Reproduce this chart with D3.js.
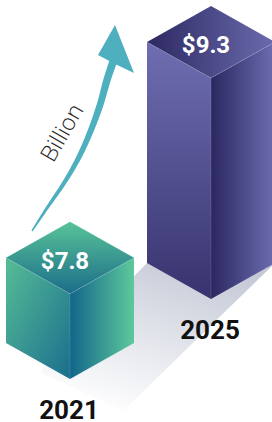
<!DOCTYPE html>
<html>
<head>
<meta charset="utf-8">
<script src="https://cdn.jsdelivr.net/npm/d3@7"></script>
<style>
  body { margin: 0; background: #fff; }
  svg { display: block; }
</style>
</head>
<body>
<div id="chart"></div>
<script>
// data
var years = ["2021", "2025"];
var values = [7.8, 9.3];
var valueLabels = ["$7.8", "$9.3"];
var unitLabel = "Billion";

// colours for each bar: [topA, topB, leftA, leftB, rightA, rightB]
var palettes = [
  ["#58c398", "#1b6d89", "#55bd96", "#1b6e8d", "#12668a", "#5dc99b"],
  ["#2c2861", "#6b6bae", "#6f6eb2", "#37336e", "#2b2760", "#6d6db1"]
];

var width = 272, height = 422;
var halfW = 64, depth = 36;

var svg = d3.select("#chart").append("svg")
    .attr("width", width)
    .attr("height", height);

var defs = svg.append("defs");

// scales
var x = d3.scalePoint().domain(years).range([70, 211]);
var base = d3.scalePoint().domain(years).range([379, 299]);
var h = d3.scaleLinear().domain([6.86, 9.3]).range([0, 221]);

function grad(id, x1, y1, x2, y2, c1, c2) {
  var g = defs.append("linearGradient").attr("id", id)
      .attr("x1", x1).attr("y1", y1).attr("x2", x2).attr("y2", y2);
  g.append("stop").attr("offset", "0%").attr("stop-color", c1);
  g.append("stop").attr("offset", "100%").attr("stop-color", c2);
}

// floor shadow behind the bars
grad("shadow", "0.75", "0", "0.25", "1", "#c4c9d6", "#ffffff");
var tall = years[1];
svg.append("path")
    .attr("d", d3.line()([
      [x(tall) - halfW, base(tall) - depth],
      [x(tall) + halfW, base(tall) - depth],
      [123, 411],
      [40, 372]
    ]) + "Z")
    .attr("fill", "url(#shadow)");

// arrow
var arrowPts = [[32, 231], [45, 211], [66, 180], [80, 155], [91, 130], [100, 105], [107, 80], [113, 62]];
var guide = svg.append("path")
    .attr("d", d3.line().curve(d3.curveCatmullRom)(arrowPts))
    .attr("fill", "none").attr("stroke", "none");
var node = guide.node(), len = node.getTotalLength();
var left = [], right = [];
for (var i = 0; i <= 80; i++) {
  var t = i / 80;
  var p = node.getPointAtLength(t * len);
  var q = node.getPointAtLength(Math.min(len, t * len + 0.5));
  var q0 = node.getPointAtLength(Math.max(0, t * len - 0.5));
  var dx = q.x - q0.x, dy = q.y - q0.y, n = Math.sqrt(dx * dx + dy * dy) || 1;
  var wdt = 0.7 + 3.2 * Math.pow(t, 0.7);
  left.push([p.x - dy / n * wdt, p.y + dx / n * wdt]);
  right.push([p.x + dy / n * wdt, p.y - dx / n * wdt]);
}
guide.remove();
svg.append("path")
    .attr("d", d3.line()(left.concat(right.reverse())) + "Z")
    .attr("fill", "#4eafbf");
svg.append("path")
    .attr("d", d3.line()([[115, 25], [98, 55], [115, 64], [134, 73]]) + "Z")
    .attr("fill", "#4eafbf");

svg.append("text")
    .attr("transform", "translate(61,132) rotate(-60)")
    .attr("text-anchor", "middle")
    .attr("dominant-baseline", "central")
    .attr("font-family", "'Open Sans', sans-serif")
    .attr("font-weight", 300)
    .attr("font-size", 23)
    .attr("fill", "#1e1e1e")
    .text(unitLabel);

// bars
var bars = svg.selectAll("g.bar")
    .data(years.map(function(y, i) { return {year: y, value: values[i], label: valueLabels[i], i: i}; }))
    .enter().append("g").attr("class", "bar");

bars.each(function(d) {
  var g = d3.select(this), p = palettes[d.i];
  var cx = x(d.year), by = base(d.year), top = by - h(d.value);
  grad("top" + d.i, "0", "0", d.i === 0 ? "0" : "1", d.i === 0 ? "1" : "0", p[0], p[1]);
  grad("left" + d.i, "0", "0", d.i === 0 ? "1" : "0", "1", p[2], p[3]);
  grad("right" + d.i, "0", "0", "1", "0", p[4], p[5]);

  g.append("path")
      .attr("d", d3.line()([[cx - halfW, top - depth], [cx, top], [cx, by], [cx - halfW, by - depth]]) + "Z")
      .attr("fill", "url(#left" + d.i + ")");
  g.append("path")
      .attr("d", d3.line()([[cx, top], [cx + halfW, top - depth], [cx + halfW, by - depth], [cx, by]]) + "Z")
      .attr("fill", "url(#right" + d.i + ")");
  g.append("path")
      .attr("d", d3.line()([[cx - halfW, top - depth], [cx, top - 2 * depth], [cx + halfW, top - depth], [cx, top]]) + "Z")
      .attr("fill", "url(#top" + d.i + ")");
  // faint edges
  g.append("path")
      .attr("d", d3.line()([[cx - halfW, top - depth], [cx, top], [cx + halfW, top - depth]]) + "M" + cx + "," + top + "L" + cx + "," + by)
      .attr("fill", "none")
      .attr("stroke", "rgba(255,255,255,0.22)")
      .attr("stroke-width", 0.6);

  g.append("text")
      .attr("x", cx - 5)
      .attr("y", top - depth + 11)
      .attr("text-anchor", "middle")
      .attr("font-family", "Roboto, sans-serif")
      .attr("font-weight", 700)
      .attr("font-size", 24)
      .attr("fill", "#fff")
      .text(d.label);

  g.append("text")
      .attr("x", cx - 1)
      .attr("y", by + 40)
      .attr("text-anchor", "middle")
      .attr("font-family", "Roboto, sans-serif")
      .attr("font-weight", 700)
      .attr("font-size", 26)
      .attr("fill", "#111")
      .text(d.year);
});
</script>
</body>
</html>
